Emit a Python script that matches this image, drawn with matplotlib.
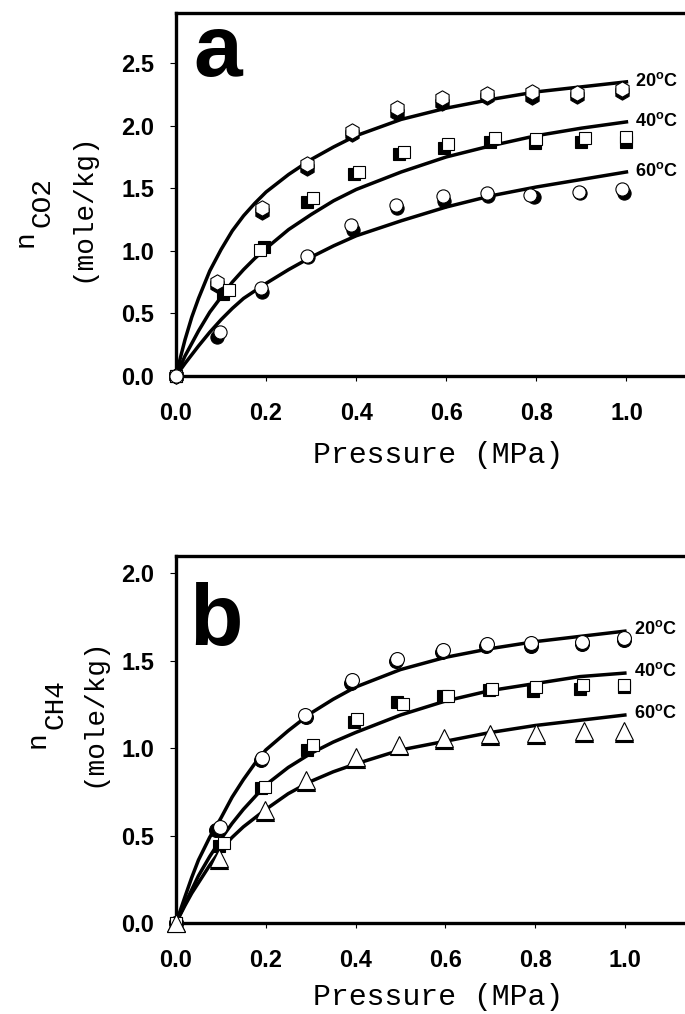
import numpy as np
import matplotlib
matplotlib.use("Agg")
from matplotlib import pyplot as plt
from matplotlib.ticker import FormatStrFormatter

plt.rcParams['mathtext.fontset'] = 'custom'
plt.rcParams['mathtext.bf'] = 'Liberation Sans:bold'
plt.rcParams['mathtext.rm'] = 'Liberation Sans:bold'

# ---- panel a: CO2 ----
# fitted curves
p_fit = [0, 0.01, 0.02, 0.035, 0.05, 0.075, 0.1, 0.125, 0.15, 0.175, 0.2, 0.25, 0.3, 0.35,
         0.4, 0.5, 0.6, 0.7, 0.8, 0.9, 1.0]
co2_fit_20 = [0, 0.15, 0.29, 0.47, 0.62, 0.84, 1.01, 1.16, 1.28, 1.38, 1.47, 1.61, 1.73, 1.83,
              1.92, 2.05, 2.14, 2.21, 2.27, 2.31, 2.35]
co2_fit_40 = [0, 0.08, 0.16, 0.26, 0.36, 0.51, 0.63, 0.75, 0.85, 0.94, 1.02, 1.17, 1.29, 1.40,
              1.49, 1.63, 1.75, 1.84, 1.92, 1.98, 2.03]
co2_fit_60 = [0, 0.05, 0.10, 0.17, 0.24, 0.35, 0.45, 0.54, 0.62, 0.68, 0.74, 0.85, 0.95, 1.04,
              1.12, 1.24, 1.35, 1.44, 1.51, 1.57, 1.63]

# measured points: filled (black) and open (white)
co2_20_p_open = [0, 0.09, 0.19, 0.29, 0.39, 0.49, 0.59, 0.69, 0.79, 0.89, 0.99]
co2_20_n_open = [0, 0.75, 1.34, 1.69, 1.96, 2.14, 2.22, 2.25, 2.27, 2.26, 2.29]
co2_20_p_fill = [0, 0.09, 0.19, 0.29, 0.39, 0.49, 0.59, 0.69, 0.79, 0.89, 0.99]
co2_20_n_fill = [0, 0.73, 1.31, 1.66, 1.93, 2.10, 2.18, 2.23, 2.23, 2.24, 2.27]

co2_40_p_open = [0, 0.117, 0.187, 0.305, 0.406, 0.507, 0.604, 0.708, 0.80, 0.908, 1.0]
co2_40_n_open = [0, 0.69, 1.01, 1.42, 1.63, 1.79, 1.85, 1.90, 1.89, 1.90, 1.91]
co2_40_p_fill = [0, 0.104, 0.195, 0.291, 0.395, 0.496, 0.596, 0.697, 0.796, 0.90, 0.998]
co2_40_n_fill = [0, 0.655, 1.03, 1.39, 1.61, 1.77, 1.82, 1.87, 1.86, 1.87, 1.87]

co2_60_p_open = [0, 0.098, 0.189, 0.29, 0.389, 0.489, 0.593, 0.69, 0.785, 0.895, 0.991]
co2_60_n_open = [0, 0.355, 0.70, 0.96, 1.21, 1.37, 1.44, 1.46, 1.45, 1.47, 1.49]
co2_60_p_fill = [0, 0.09, 0.19, 0.292, 0.394, 0.49, 0.594, 0.693, 0.795, 0.897, 0.995]
co2_60_n_fill = [0, 0.315, 0.67, 0.95, 1.17, 1.34, 1.40, 1.44, 1.43, 1.46, 1.46]

# ---- panel b: CH4 ----
ch4_fit_20 = [0, 0.075, 0.15, 0.26, 0.36, 0.49, 0.60, 0.72, 0.82, 0.91, 0.99, 1.10, 1.20, 1.28,
              1.35, 1.45, 1.52, 1.57, 1.61, 1.64, 1.67]
ch4_fit_40 = [0, 0.055, 0.11, 0.19, 0.27, 0.38, 0.48, 0.57, 0.65, 0.72, 0.79, 0.89, 0.97, 1.035,
              1.09, 1.19, 1.27, 1.33, 1.37, 1.41, 1.43]
ch4_fit_60 = [0, 0.05, 0.10, 0.17, 0.23, 0.33, 0.42, 0.49, 0.55, 0.60, 0.65, 0.74, 0.81, 0.865,
              0.91, 0.99, 1.04, 1.09, 1.13, 1.16, 1.19]

ch4_20_p_open = [0, 0.098, 0.192, 0.287, 0.393, 0.492, 0.594, 0.693, 0.79, 0.905, 0.998]
ch4_20_n_open = [0, 0.55, 0.945, 1.19, 1.39, 1.51, 1.56, 1.595, 1.60, 1.61, 1.63]
ch4_20_p_fill = [0, 0.09, 0.19, 0.29, 0.39, 0.49, 0.592, 0.69, 0.79, 0.905, 0.998]
ch4_20_n_fill = [0, 0.53, 0.93, 1.18, 1.375, 1.50, 1.55, 1.585, 1.585, 1.595, 1.62]

ch4_40_p_open = [0, 0.106, 0.198, 0.305, 0.404, 0.505, 0.606, 0.705, 0.802, 0.907, 0.998]
ch4_40_n_open = [0, 0.46, 0.78, 1.02, 1.17, 1.255, 1.30, 1.34, 1.35, 1.36, 1.36]
ch4_40_p_fill = [0, 0.095, 0.19, 0.291, 0.396, 0.493, 0.595, 0.697, 0.796, 0.90, 0.998]
ch4_40_n_fill = [0, 0.44, 0.775, 0.99, 1.15, 1.265, 1.30, 1.335, 1.33, 1.34, 1.35]

ch4_60_p_open = [0, 0.096, 0.198, 0.289, 0.40, 0.497, 0.598, 0.70, 0.802, 0.909, 0.998]
ch4_60_n_open = [0, 0.37, 0.646, 0.817, 0.95, 1.02, 1.06, 1.084, 1.09, 1.10, 1.10]
ch4_60_p_fill = [0, 0.096, 0.198, 0.289, 0.40, 0.497, 0.598, 0.70, 0.802, 0.909, 0.998]
ch4_60_n_fill = [0, 0.36, 0.634, 0.805, 0.94, 1.01, 1.05, 1.072, 1.078, 1.088, 1.088]

temp_labels = ["20", "40", "60"]

W, H = 685, 1014
fig = plt.figure(figsize=(W / 100, H / 100), dpi=100)

tick_font = {'family': 'Liberation Sans', 'weight': 'bold', 'size': 17}
mono = 'Liberation Mono'


def setup_axes(ax, ymax, xmax, yticks):
    ax.set_xlim(0, xmax)
    ax.set_ylim(0, ymax)
    ax.spines['right'].set_visible(False)
    for s in ['left', 'bottom', 'top']:
        ax.spines[s].set_linewidth(2.4)
        ax.spines[s].set_clip_on(False)
    ax.set_xticks([0.0, 0.2, 0.4, 0.6, 0.8, 1.0])
    ax.set_yticks(yticks)
    ax.xaxis.set_major_formatter(FormatStrFormatter('%.1f'))
    ax.yaxis.set_major_formatter(FormatStrFormatter('%.1f'))
    ax.tick_params(axis='x', direction='out', length=3.5, width=0.8, pad=15)
    ax.tick_params(axis='y', direction='out', length=4, width=0.8, pad=11.5)
    for lab in ax.get_xticklabels() + ax.get_yticklabels():
        lab.set_fontproperties(tick_font)


def draw_set(ax, fits, points, markers, sizes):
    for fy in fits:
        ax.plot(p_fit, fy, color='black', lw=2.5, zorder=2, solid_joinstyle='round')
    for (pf, nf, po, no), m, ms in zip(points, markers, sizes):
        ax.plot(pf, nf, linestyle='none', marker=m, ms=ms, mfc='black', mec='black',
                mew=0.8, zorder=3, clip_on=False)
        ax.plot(po, no, linestyle='none', marker=m, ms=ms, mfc='white', mec='black',
                mew=0.8, zorder=4, clip_on=False)
    for fy, t in zip(fits, temp_labels):
        ax.text(1.02, fy[-1] + 0.01, t + r"$^{\mathbf{o}}$C", fontsize=13, fontweight='bold',
                family='Liberation Sans', ha='left', va='center')


# panel a
ax1 = fig.add_axes([176 / W, 1 - 376 / H, (W - 176) / W, (376 - 13) / H])
setup_axes(ax1, 2.9, 1.13, [0.0, 0.5, 1.0, 1.5, 2.0, 2.5])
draw_set(ax1, [co2_fit_20, co2_fit_40, co2_fit_60],
         [(co2_20_p_fill, co2_20_n_fill, co2_20_p_open, co2_20_n_open),
          (co2_40_p_fill, co2_40_n_fill, co2_40_p_open, co2_40_n_open),
          (co2_60_p_fill, co2_60_n_fill, co2_60_p_open, co2_60_n_open)],
         ['h', 's', 'o'], [11, 8.8, 9.5])
ax1.text(0.035, 0.826, "a", transform=ax1.transAxes, fontsize=63, fontweight='bold',
         family='Liberation Sans', ha='left', va='baseline')

# panel b
ax2 = fig.add_axes([176 / W, 1 - 923 / H, (W - 176) / W, (923 - 556) / H])
setup_axes(ax2, 2.1, 1.134, [0.0, 0.5, 1.0, 1.5, 2.0])
draw_set(ax2, [ch4_fit_20, ch4_fit_40, ch4_fit_60],
         [(ch4_20_p_fill, ch4_20_n_fill, ch4_20_p_open, ch4_20_n_open),
          (ch4_40_p_fill, ch4_40_n_fill, ch4_40_p_open, ch4_40_n_open),
          (ch4_60_p_fill, ch4_60_n_fill, ch4_60_p_open, ch4_60_n_open)],
         ['o', 's', '^'], [10, 8.8, 12.5])
ax2.text(0.026, 0.757, "b", transform=ax2.transAxes, fontsize=63, fontweight='bold',
         family='Liberation Sans', ha='left', va='baseline')

# x axis titles
for base_y in [463, 1005]:
    fig.text(438 / W, 1 - base_y / H, "Pressure (MPa)", family=mono, fontsize=21.5,
             ha='center', va='baseline')

# y axis titles (rotated, built from pieces for the big subscript)
for (nx, ny), (sx, sy), sub, (lx, ly) in [((33, 247), (50, 227), "CO2", (89, 282)),
                                          ((45, 748), (63, 729), "CH4", (100, 787))]:
    fig.text(nx / W, 1 - ny / H, "n", family=mono, fontsize=20, rotation=90,
             rotation_mode='anchor', ha='left', va='baseline')
    fig.text(sx / W, 1 - sy / H, sub, family=mono, fontsize=20, rotation=90,
             rotation_mode='anchor', ha='left', va='baseline')
    fig.text(lx / W, 1 - ly / H, "(mole/kg)", family=mono, fontsize=20, rotation=90,
             rotation_mode='anchor', ha='left', va='baseline')

fig.savefig("out.png", dpi=100)
